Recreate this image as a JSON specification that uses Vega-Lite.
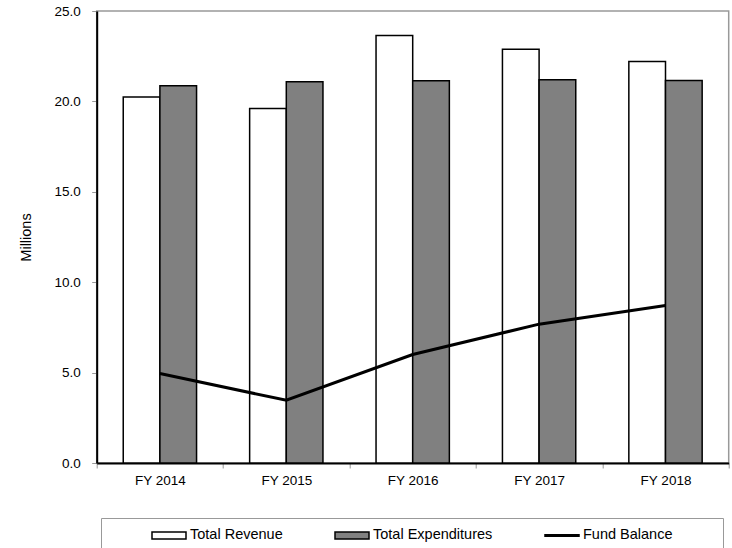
{
  "$schema": "https://vega.github.io/schema/vega-lite/v6.json",
  "autosize": "none",
  "width": 632,
  "height": 452,
  "padding": {"left": 96.7, "top": 11, "right": 3.3, "bottom": 85},
  "background": "white",
  "config": {
    "font": "Liberation Sans",
    "view": {"stroke": "#999999", "strokeWidth": 1.5},
    "axis": {"grid": false, "labelFont": "Liberation Sans", "titleFont": "Liberation Sans", "labelColor": "#000000", "titleColor": "#000000"},
    "legend": {
      "orient": "none",
      "direction": "horizontal",
      "columns": 3,
      "columnPadding": 11,
      "padding": 10,
      "strokeColor": "#999999",
      "fillColor": "#ffffff",
      "labelFont": "Liberation Sans",
      "labelFontSize": 14.5,
      "labelColor": "#000000",
      "titleFontSize": 14.5,
      "symbolSize": 100,
      "symbolStrokeWidth": 1.5,
      "symbolOffset": 50.75,
      "labelOffset": 13.75,
      "symbolType": "M-3.4,-0.7H3.4V0.7H-3.4Z"
    }
  },
  "data": {
    "values": [
      {"year": "FY 2014", "series": "Total Revenue", "value": 20.25},
      {"year": "FY 2014", "series": "Total Expenditures", "value": 20.86},
      {"year": "FY 2014", "series": "Fund Balance", "value": 4.95},
      {"year": "FY 2015", "series": "Total Revenue", "value": 19.61},
      {"year": "FY 2015", "series": "Total Expenditures", "value": 21.08},
      {"year": "FY 2015", "series": "Fund Balance", "value": 3.47},
      {"year": "FY 2016", "series": "Total Revenue", "value": 23.65},
      {"year": "FY 2016", "series": "Total Expenditures", "value": 21.14},
      {"year": "FY 2016", "series": "Fund Balance", "value": 6.0},
      {"year": "FY 2017", "series": "Total Revenue", "value": 22.89},
      {"year": "FY 2017", "series": "Total Expenditures", "value": 21.2},
      {"year": "FY 2017", "series": "Fund Balance", "value": 7.68},
      {"year": "FY 2018", "series": "Total Revenue", "value": 22.21},
      {"year": "FY 2018", "series": "Total Expenditures", "value": 21.16},
      {"year": "FY 2018", "series": "Fund Balance", "value": 8.71}
    ]
  },
  "encoding": {
    "x": {
      "field": "year",
      "type": "nominal",
      "scale": {"paddingInner": 0, "paddingOuter": 0},
      "axis": {
        "title": null,
        "labelAngle": 0,
        "labelFontSize": 13.5,
        "labelPadding": 5,
        "tickBand": "extent",
        "tickColor": "#999999",
        "tickSize": 5,
        "domainColor": "#000000",
        "domainWidth": 2
      }
    },
    "y": {
      "field": "value",
      "type": "quantitative",
      "scale": {"domain": [0, 25], "nice": false},
      "axis": {
        "title": "Millions",
        "titleFontSize": 14.5,
        "titleFontWeight": "normal",
        "titlePadding": 20,
        "values": [0, 5, 10, 15, 20, 25],
        "format": ".1f",
        "labelFontSize": 13.5,
        "labelPadding": 11.5,
        "tickColor": "#999999",
        "tickSize": 5,
        "domainColor": "#000000",
        "domainWidth": 2
      }
    }
  },
  "layer": [
    {
      "transform": [{"filter": "datum.series !== 'Fund Balance'"}],
      "mark": {"type": "bar", "stroke": "#000000", "strokeWidth": 1.5},
      "encoding": {
        "xOffset": {
          "field": "series",
          "type": "nominal",
          "sort": ["Total Revenue", "Total Expenditures"],
          "scale": {"paddingInner": 0, "paddingOuter": 0.724}
        },
        "fill": {
          "field": "series",
          "type": "nominal",
          "scale": {
            "domain": ["Total Revenue", "Total Expenditures", "Fund Balance"],
            "range": ["#ffffff", "#808080", "#000000"]
          },
          "legend": {
            "title": "\u00a0",
            "titleOrient": "right",
            "titlePadding": 41,
            "legendX": 4.3,
            "legendY": 507,
            "encode": {
              "symbols": {
                "update": {
                  "shape": {"signal": "datum.value === 'Fund Balance' ? 'M-3.4,-0.15H3.4V0.15H-3.4Z' : 'M-3.4,-0.7H3.4V0.7H-3.4Z'"},
                  "strokeWidth": {"value": 1.5},
                  "size": {"value": 100},
                  "opacity": {"value": 1}
                }
              }
            }
          }
        }
      }
    },
    {
      "transform": [{"filter": "datum.series === 'Fund Balance'"}],
      "mark": {"type": "line", "strokeWidth": 3, "strokeJoin": "miter"},
      "encoding": {
        "stroke": {
          "field": "series",
          "type": "nominal",
          "scale": {
            "domain": ["Total Revenue", "Total Expenditures", "Fund Balance"],
            "range": ["#000000", "#000000", "#000000"]
          },
          "legend": {
            "title": "\u00a0",
            "titleOrient": "right",
            "titlePadding": 41,
            "legendX": 4.3,
            "legendY": 507,
            "encode": {
              "symbols": {
                "update": {
                  "shape": {"signal": "datum.value === 'Fund Balance' ? 'M-3.4,-0.15H3.4V0.15H-3.4Z' : 'M-3.4,-0.7H3.4V0.7H-3.4Z'"},
                  "strokeWidth": {"value": 1.5},
                  "size": {"value": 100},
                  "opacity": {"value": 1}
                }
              }
            }
          }
        }
      }
    }
  ]
}
